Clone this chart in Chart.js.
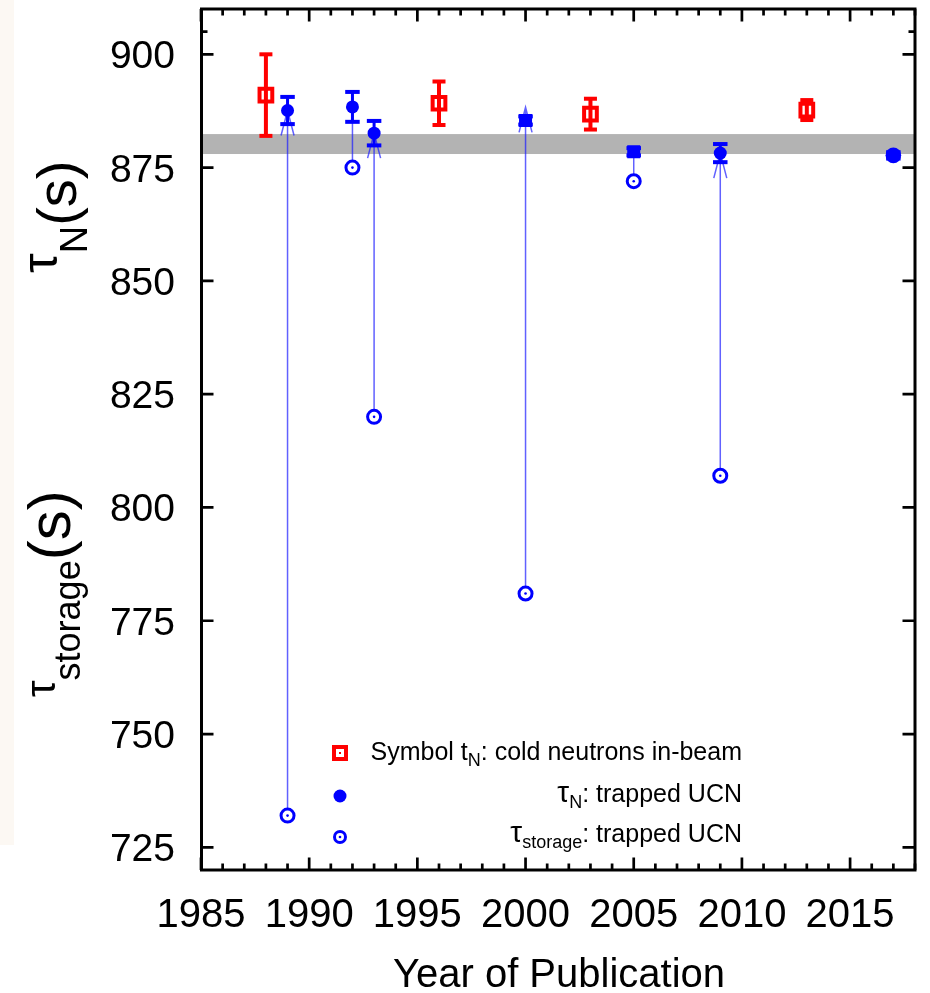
<!DOCTYPE html>
<html>
<head>
<meta charset="utf-8">
<title>Neutron lifetime measurements</title>
<script src="https://cdn.jsdelivr.net/npm/chart.js@4.4.1/dist/chart.umd.min.js"></script>
<style>
  body { margin: 0; background: #fff; }
  #wrap { position: relative; width: 930px; height: 993px; }
</style>
</head>
<body>
<div id="wrap"><canvas id="lifetimeChart"></canvas></div>
<script>
// cold neutron in-beam results
const beamYears = [1988, 1996, 2003, 2013];
const beamTau = [891.0, 889.2, 886.8, 887.7];
const beamErr = [9.0, 4.8, 3.4, 2.2];

// trapped UCN lifetimes
const ucnYears = [1989, 1992, 1993, 2000, 2005, 2009, 2017];
const ucnTau = [887.6, 888.4, 882.6, 885.4, 878.5, 878.2, 877.7];
const ucnErr = [3.0, 3.3, 2.7, 0.9, 0.8, 2.0, 0.7];

// raw storage times of the same experiments, and where each link line ends
const storageYears = [1989, 1992, 1993, 2000, 2005, 2009];
const storageTau = [732, 875, 820, 781, 872, 807];
const linkTo = [887.6, 888.4, 882.6, 888.3, 878.5, 878.2];
const linkArrow = [true, false, true, true, false, true];

// grey band
const bandLow = 878.0;
const bandHigh = 882.4;

const xTicks = [1985, 1990, 1995, 2000, 2005, 2010, 2015];
const yTicks = [725, 750, 775, 800, 825, 850, 875, 900];
const yMinorTicks = [905];

const FONT = '"Liberation Sans", Arial, sans-serif';
const RED = '#ff0000';
const BLUE = '#0000ff';

// text made of pieces: [text, size, dy]
function richWidth(ctx, parts) {
    let w = 0;
    parts.forEach(p => {
        ctx.font = p[1] + 'px ' + FONT;
        w += ctx.measureText(p[0]).width;
    });
    return w;
}

function drawRich(ctx, parts, x, y) {
    let cx = x;
    parts.forEach(p => {
        ctx.font = p[1] + 'px ' + FONT;
        ctx.fillText(p[0], cx, y + (p[2] || 0));
        cx += ctx.measureText(p[0]).width;
    });
}

// vertical title, read bottom to top; each piece: [text, size, baseline x]
function drawUpright(ctx, parts, bottomY) {
    let u = 0;
    parts.forEach(p => {
        ctx.save();
        ctx.font = p[1] + 'px ' + FONT;
        ctx.translate(p[2], bottomY);
        ctx.rotate(-Math.PI / 2);
        ctx.textAlign = 'left';
        ctx.textBaseline = 'alphabetic';
        ctx.fillText(p[0], u, 0);
        u += ctx.measureText(p[0]).width;
        ctx.restore();
    });
}

function errorBars(ctx, xs, ys, es, sx, sy, color, lineW, capW) {
    ctx.fillStyle = color;
    xs.forEach((yr, i) => {
        const px = sx.getPixelForValue(yr);
        const top = sy.getPixelForValue(ys[i] + es[i]);
        const bot = sy.getPixelForValue(ys[i] - es[i]);
        ctx.fillRect(px - lineW / 2, top, lineW, bot - top);
        ctx.fillRect(px - capW / 2, top - 2, capW, 4);
        ctx.fillRect(px - capW / 2, bot - 2, capW, 4);
    });
}

const decorations = {
    id: 'decorations',
    beforeDraw(chart) {
        const ctx = chart.ctx;
        ctx.save();
        ctx.fillStyle = '#fcf8f3';
        ctx.fillRect(0, 0, 14, 845);
        ctx.restore();
    },
    beforeDatasetsDraw(chart) {
        const ctx = chart.ctx;
        const a = chart.chartArea;
        const sx = chart.scales.x;
        const sy = chart.scales.y;
        ctx.save();

        // band
        const b1 = sy.getPixelForValue(bandHigh);
        const b2 = sy.getPixelForValue(bandLow);
        ctx.fillStyle = '#b3b3b3';
        ctx.fillRect(a.left, b1, a.right - a.left, b2 - b1);

        // storage -> lifetime links
        ctx.strokeStyle = 'rgba(30, 30, 255, 0.7)';
        ctx.lineWidth = 1.5;
        storageYears.forEach((yr, i) => {
            const px = sx.getPixelForValue(yr);
            const from = sy.getPixelForValue(storageTau[i]);
            const to = sy.getPixelForValue(linkTo[i]);
            ctx.beginPath();
            ctx.moveTo(px, from);
            ctx.lineTo(px, to);
            if (linkArrow[i]) {
                ctx.moveTo(px - 6.5, to + 25);
                ctx.lineTo(px, to);
                ctx.lineTo(px + 6.5, to + 25);
            }
            ctx.stroke();
        });

        errorBars(ctx, beamYears, beamTau, beamErr, sx, sy, RED, 4, 13);
        errorBars(ctx, ucnYears, ucnTau, ucnErr, sx, sy, BLUE, 3, 14.5);
        ctx.restore();
    },
    afterDatasetsDraw(chart) {
        const ctx = chart.ctx;
        ctx.save();
        ctx.fillStyle = BLUE;
        chart.getDatasetMeta(2).data.forEach(pt => {
            ctx.beginPath();
            ctx.arc(pt.x, pt.y, 1.3, 0, Math.PI * 2);
            ctx.fill();
        });
        ctx.restore();
    },
    afterDraw(chart) {
        const ctx = chart.ctx;
        const a = chart.chartArea;
        const sx = chart.scales.x;
        const sy = chart.scales.y;
        ctx.save();

        // frame
        ctx.strokeStyle = '#000';
        ctx.lineWidth = 3;
        ctx.strokeRect(a.left + 0.5, a.top, a.right - a.left - 0.5, a.bottom - a.top);

        // ticks on all four sides, pointing inwards
        ctx.lineWidth = 2.7;
        ctx.beginPath();
        for (let yr = sx.min; yr <= sx.max; yr++) {
            const px = sx.getPixelForValue(yr);
            const len = xTicks.includes(yr) ? 12.5 : 6.5;
            ctx.moveTo(px, a.bottom);
            ctx.lineTo(px, a.bottom - len);
            ctx.moveTo(px, a.top);
            ctx.lineTo(px, a.top + len);
        }
        yTicks.concat(yMinorTicks).forEach(v => {
            const py = sy.getPixelForValue(v);
            const len = yTicks.includes(v) ? 12.5 : 6.5;
            ctx.moveTo(a.left, py);
            ctx.lineTo(a.left + len, py);
            ctx.moveTo(a.right, py);
            ctx.lineTo(a.right - len, py);
        });
        ctx.stroke();

        // tick labels
        ctx.fillStyle = '#000';
        ctx.textBaseline = 'alphabetic';
        ctx.font = '39px ' + FONT;
        ctx.textAlign = 'right';
        yTicks.forEach(v => {
            ctx.fillText(String(v), 175, sy.getPixelForValue(v) + 14);
        });
        ctx.font = '40px ' + FONT;
        ctx.textAlign = 'center';
        xTicks.forEach(v => {
            ctx.fillText(String(v), sx.getPixelForValue(v), 927);
        });

        // axis titles
        ctx.fillText('Year of Publication', 559, 987);
        ctx.textAlign = 'left';
        drawUpright(ctx, [['τ', 50, 57], ['N', 38, 87], ['(s)', 56, 76]], 273);
        drawUpright(ctx, [['τ', 42, 55], ['storage', 36, 80], ['(s)', 60, 70]], 697);

        // legend
        const mx = 340;
        ctx.strokeStyle = RED;
        ctx.lineWidth = 4;
        ctx.strokeRect(mx - 6, 753 - 6, 12, 12);
        ctx.fillStyle = RED;
        ctx.fillRect(mx - 1, 752, 2, 2);

        ctx.fillStyle = BLUE;
        ctx.beginPath();
        ctx.arc(mx, 796, 6.5, 0, Math.PI * 2);
        ctx.fill();

        ctx.strokeStyle = BLUE;
        ctx.lineWidth = 3;
        ctx.beginPath();
        ctx.arc(mx, 837, 5.5, 0, Math.PI * 2);
        ctx.stroke();
        ctx.beginPath();
        ctx.arc(mx, 837, 1.3, 0, Math.PI * 2);
        ctx.fill();

        ctx.fillStyle = '#000';
        const rows = [
            [[['Symbol t', 25], ['N', 18, 6], [': cold neutrons in-beam', 25]], 760],
            [[['τ', 30], ['N', 18, 6], [': trapped UCN', 25]], 802],
            [[['τ', 30], ['storage', 18, 6], [': trapped UCN', 25]], 842]
        ];
        rows.forEach(r => {
            const w = richWidth(ctx, r[0]);
            drawRich(ctx, r[0], 742 - w, r[1]);
        });
        ctx.restore();
    }
};

const ctx = document.getElementById('lifetimeChart').getContext('2d');
new Chart(ctx, {
    type: 'scatter',
    data: {
        datasets: [
            {
                label: 'in-beam',
                data: beamYears.map((yr, i) => ({ x: yr, y: beamTau[i] })),
                pointStyle: 'rect',
                pointRadius: 9,
                borderWidth: 4,
                borderColor: RED,
                backgroundColor: 'rgba(0,0,0,0)'
            },
            {
                label: 'trapped UCN',
                data: ucnYears.map((yr, i) => ({ x: yr, y: ucnTau[i] })),
                pointStyle: ['circle', 'circle', 'circle', 'rect', 'rect', 'circle', 'circle'],
                pointRadius: [6.5, 6.5, 6.5, 9.2, 9.2, 6.5, 7.8],
                borderWidth: 0,
                backgroundColor: BLUE
            },
            {
                label: 'storage',
                data: storageYears.map((yr, i) => ({ x: yr, y: storageTau[i] })),
                pointStyle: 'circle',
                pointRadius: 6.5,
                borderWidth: 3,
                borderColor: BLUE,
                backgroundColor: '#fff'
            }
        ]
    },
    options: {
        responsive: true,
        maintainAspectRatio: false,
        animation: false,
        layout: { autoPadding: false, padding: { left: 201, top: 9, right: 15, bottom: 123 } },
        plugins: {
            legend: { display: false },
            tooltip: { enabled: false }
        },
        scales: {
            x: { type: 'linear', min: 1985, max: 2018, display: false },
            y: { type: 'linear', min: 720, max: 910, display: false }
        }
    },
    plugins: [decorations]
});
</script>
</body>
</html>
